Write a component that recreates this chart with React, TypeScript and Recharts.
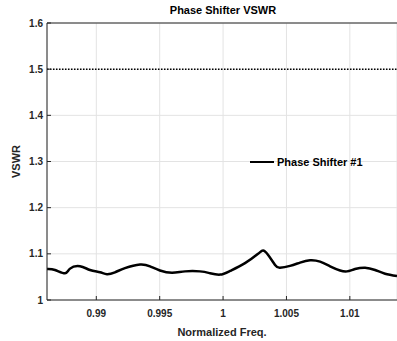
import React from 'react';
import { LineChart, Line, XAxis, YAxis, CartesianGrid, ReferenceLine } from 'recharts';

const freq = [
  0.98611, 0.98674, 0.98753, 0.98793, 0.98871, 0.9895, 0.99029, 0.99084, 0.99147,
  0.99226, 0.99345, 0.99424, 0.99502, 0.99597, 0.997, 0.99818, 0.99897, 0.99976,
  1.00055, 1.00173, 1.00276, 1.00315, 1.00354, 1.0041, 1.00449, 1.00528, 1.00607,
  1.00686, 1.00765, 1.00844, 1.00923, 1.00978, 1.01041, 1.0112, 1.01199, 1.01278, 1.01372,
];
const vswr = [
  1.067, 1.065, 1.058, 1.068, 1.073, 1.065, 1.06, 1.056, 1.06,
  1.069, 1.077, 1.073, 1.064, 1.059, 1.062, 1.062, 1.058, 1.055,
  1.063, 1.08, 1.1, 1.107, 1.098, 1.076, 1.07, 1.074, 1.081,
  1.086, 1.083, 1.073, 1.064, 1.062, 1.067, 1.07, 1.065, 1.057, 1.052,
];
const xTicks = [0.99, 0.995, 1, 1.005, 1.01];
const yTicks = [1, 1.1, 1.2, 1.3, 1.4, 1.5, 1.6];
const limitValue = 1.5;
const seriesName = 'Phase Shifter #1';
const titleText = 'Phase Shifter VSWR';
const xLabel = 'Normalized Freq.';
const yLabel = 'VSWR';

const data = freq.map((f, i) => ({ f, v: vswr[i] }));

const FONT = '"Liberation Sans", Arial, Helvetica, sans-serif';
const AX = '#262626';

export default function App() {
  return (
    <div style={{ position: 'absolute', left: 0, top: 0, width: 397, height: 341, fontFamily: FONT, background: '#fff' }}>
      <LineChart width={397} height={341} data={data} margin={{ top: 23, right: 0, bottom: 0, left: 0 }}>
        <CartesianGrid stroke="#e3e3e3" strokeWidth={1} />
        <XAxis
          dataKey="f"
          type="number"
          domain={[0.98611, 1.01372]}
          allowDataOverflow
          ticks={xTicks}
          tickFormatter={(v: number) => String(v)}
          height={41}
          stroke={AX}
          tickSize={-4}
          tickMargin={14}
          tick={{ fill: AX, fontSize: 10, fontWeight: 'bold', fontFamily: FONT }}
          label={{ value: xLabel, position: 'insideBottom', offset: 5, fill: AX, fontSize: 11, fontWeight: 'bold', fontFamily: FONT }}
        />
        <YAxis
          type="number"
          domain={[1, 1.6]}
          ticks={yTicks}
          tickFormatter={(v: number) => (v === 1 ? '1' : v.toFixed(1))}
          width={47}
          stroke={AX}
          tickSize={-4}
          tickMargin={8}
          tick={{ fill: AX, fontSize: 10, fontWeight: 'bold', fontFamily: FONT }}
          label={{ value: yLabel, angle: -90, position: 'insideLeft', offset: 16, fill: AX, fontSize: 11, fontWeight: 'bold', fontFamily: FONT, style: { textAnchor: 'middle' } }}
        />
        <ReferenceLine y={1.6} stroke={AX} strokeWidth={1} />
        <ReferenceLine y={limitValue} stroke="#000" strokeWidth={1.5} strokeDasharray="1.5 1.5" />
        <Line
          dataKey="v"
          type="natural"
          stroke="#000"
          strokeWidth={2.5}
          dot={false}
          isAnimationActive={false}
          name={seriesName}
        />
      </LineChart>
      <div style={{ position: 'absolute', left: 0, width: 446, top: 4, textAlign: 'center', fontSize: 11, fontWeight: 'bold', color: '#000' }}>
        {titleText}
      </div>
      <div style={{ position: 'absolute', left: 250, top: 155, display: 'flex', alignItems: 'center', height: 14 }}>
        <div style={{ width: 24, height: 2.5, background: '#000' }} />
        <div style={{ marginLeft: 3, fontSize: 11, fontWeight: 'bold', color: '#000', background: 'transparent', whiteSpace: 'nowrap' }}>{seriesName}</div>
      </div>
    </div>
  );
}
